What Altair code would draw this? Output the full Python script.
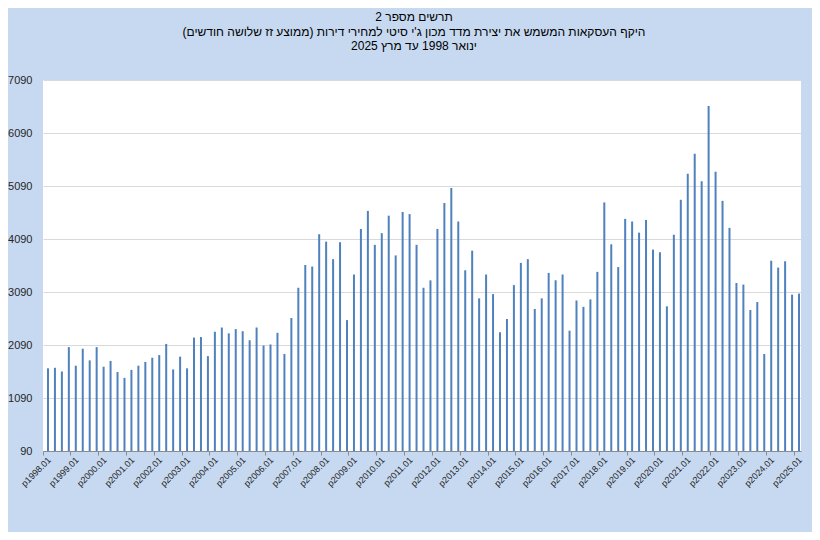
import altair as alt
import pandas as pd

years = list(range(1998, 2026))
quarter_suffix = ["01", "04", "07", "10"]

values = [1650, 1660, 1590, 2050, 1700, 2020, 1800, 2050, 1680, 1790, 1580, 1470,
          1620, 1700, 1770, 1850, 1900, 2110, 1630, 1870, 1650, 2230, 2240, 1880,
          2340, 2420, 2310, 2390, 2350, 2180, 2420, 2080, 2100, 2320, 1920, 2600,
          3170, 3600, 3570, 4180, 4040, 3710, 4030, 2560, 3420, 4280, 4620, 3980,
          4200, 4530, 3780, 4600, 4560, 3980, 3170, 3310, 4280, 4770, 5050, 4420,
          3500, 3870, 2970, 3420, 3050, 2330, 2580, 3220, 3640, 3710, 2770, 2970,
          3450, 3310, 3420, 2360, 2930, 2810, 2950, 3470, 4780, 3990, 3560, 4470,
          4420, 4210, 4450, 3890, 3840, 2820, 4170, 4830, 5320, 5700, 5180, 6600,
          5360, 4810, 4300, 3260, 3230, 2750, 2900, 1920, 3680, 3550, 3670, 3040,
          3060]

periods = [f"p{y}.{q}" for y in years for q in quarter_suffix][:len(values)]
year_labels = [f"p{y}.01" for y in years]
y_ticks = [90, 1090, 2090, 3090, 4090, 5090, 6090, 7090]

title_lines = [
    "תרשים מספר 2",
    "\u200fהיקף העסקאות המשמש את יצירת מדד מכון ג'י סיטי למחירי דירות (ממוצע זז שלושה חודשים)\u200f",
    "ינואר 1998  עד מרץ 2025",
]

df = pd.DataFrame({"period": periods, "value": values})

FONT = "Liberation Sans"

chart = alt.Chart(df).mark_bar(width=2, xOffset=1.5, color="#4f81bd").encode(
    x=alt.X("period:N", sort=periods,
            scale=alt.Scale(paddingInner=0, paddingOuter=0),
            axis=alt.Axis(values=year_labels, bandPosition=0, labelAngle=-45,
                          labelAlign="right", labelBaseline="middle",
                          labelFontSize=9, labelColor="#262626", labelFont=FONT,
                          labelPadding=3, labelOffset=3,
                          tickSize=4, tickColor="#8c8c8c", domainColor="#8c8c8c",
                          grid=False, title=None)),
    y=alt.Y("value:Q", scale=alt.Scale(domain=[90, 7090], nice=False, zero=False),
            axis=alt.Axis(values=y_ticks, format="d", domain=False, ticks=False,
                          labelFontSize=11, labelColor="#262626", labelFont=FONT,
                          labelPadding=11, gridColor="#d9d9d9", gridWidth=1,
                          title=None)),
    y2=alt.datum(90),
).properties(
    width=758,
    height=371,
    padding={"left": 35, "top": 72, "right": 11, "bottom": 81},
    autosize=alt.AutoSizeParams(type="none"),
    background="#c6d9f1",
    title=alt.TitleParams(text=title_lines, fontSize=12, font=FONT,
                          fontWeight="normal", color="#000000", anchor="middle",
                          lineHeight=14.5, offset=21, dx=-8),
).configure_view(fill="white", strokeWidth=0)

chart.save("out.html", embed_options={"renderer": "svg", "actions": False})
